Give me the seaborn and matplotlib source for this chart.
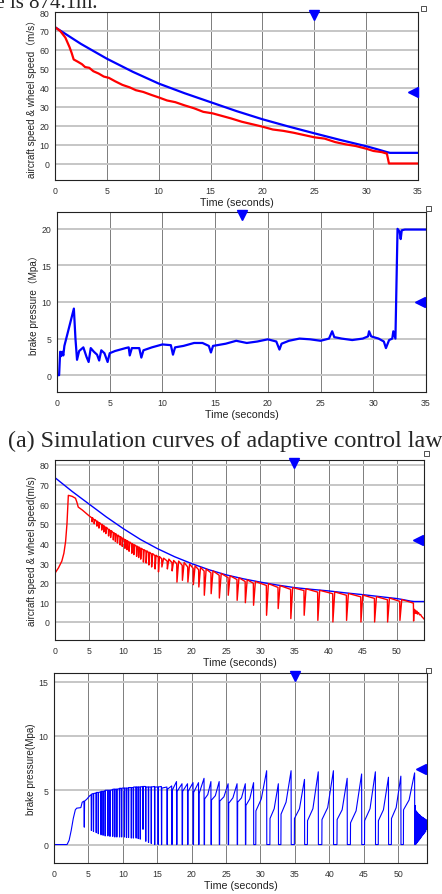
import numpy as np
import pandas as pd
import seaborn as sns
import matplotlib.pyplot as plt
from matplotlib.patches import Rectangle

sns.set_style('white')
plt.rcParams['font.family'] = ['Liberation Sans', 'Noto Sans CJK SC']

#########################################
# (a) adaptive control law, 0-35 s
#
p1_air_t = [0, 2.5, 5, 7.5, 10, 12.5, 15, 17.5, 20, 22.5, 25, 27.5, 30, 31, 32, 32.3, 35]
p1_air_v = [72, 63.2, 55.4, 48.5, 42.3, 37.2, 32.5, 27.8, 23.5, 19.7, 16.1, 12.6, 9.3, 7.8, 6.2, 5.8, 5.8]

p1_wheel_t = [0, 0.5, 1.0, 1.4, 1.6, 1.8, 2.2, 2.6, 2.9, 3.3, 3.7, 4.2, 4.7, 5.2, 5.8, 6.5, 7.2, 7.8,
              8.5, 9.3, 10.0, 10.8, 11.6, 12.5, 13.4, 14.3, 15.2, 16.0, 17.0, 18.0, 19.0, 20.0, 21.0,
              22.0, 23.0, 24.0, 25.0, 26.0, 27.0, 28.0, 29.0, 30.0, 30.7, 31.5, 32.0, 32.2, 35]
p1_wheel_v = [72, 70, 66.5, 61.5, 58.5, 55, 53.8, 52.5, 51, 50.6, 48.8, 47.6, 46, 45.3, 43.5, 41.6, 40.3, 38.8,
              37.9, 36.3, 35.0, 33.4, 32.5, 30.8, 29.3, 27.4, 26.6, 25.4, 23.9, 22.2, 20.9, 19.6, 18.1,
              17.4, 16.4, 15.2, 14.0, 13.3, 11.5, 10.3, 9.4, 8.0, 6.8, 6.2, 5.4, 0.2, 0.2]

p2_t = [0, 0.2, 0.3, 0.4, 0.5, 0.6, 0.7, 1.6, 1.75, 1.9, 2.1, 2.5, 2.8, 3.0, 3.2, 3.5, 3.8, 4.0, 4.2,
        4.5, 4.8, 5.0, 5.5, 6.0, 6.5, 6.8, 6.9, 7.1, 7.8, 8.0, 8.2, 9.0, 10.0, 10.8, 11.0, 11.2, 12.0,
        13.0, 13.8, 14.4, 14.6, 14.8, 16.0, 17.0, 18.0, 19.0, 20.0, 20.8, 21.1, 21.3, 22.0, 23.0, 24.0,
        25.0, 25.8, 26.1, 26.3, 27.0, 28.0, 29.0, 29.5, 29.6, 29.8, 30.5, 31.0, 31.2, 31.5, 31.8, 31.9,
        32.1, 32.3, 32.5, 32.6, 32.7, 33.0, 35.0]
p2_v = [0, 0, 3.2, 2.6, 3.2, 2.7, 4.0, 9.1, 5.0, 2.1, 3.3, 3.8, 2.5, 1.8, 3.7, 3.2, 2.8, 2.0, 3.4,
        3.0, 1.8, 3.0, 3.3, 3.5, 3.7, 3.8, 2.7, 3.7, 3.7, 2.4, 3.4, 3.8, 4.2, 4.1, 2.8, 3.8, 4.0,
        4.4, 4.4, 4.0, 3.1, 4.0, 4.3, 4.7, 4.4, 4.6, 4.9, 4.6, 3.5, 4.3, 4.7, 5.0, 4.9,
        4.7, 5.0, 6.0, 5.2, 5.0, 4.8, 5.0, 5.3, 6.0, 5.3, 5.0, 4.6, 3.7, 4.8, 5.0, 6.0,
        5.0, 20.0, 19.6, 18.6, 19.8, 19.9, 19.9]

#########################################
# (b) 0-54 s, wheel speed dips / brake pressure releases
#
p3_air_t = [0, 2.5, 5, 7.5, 10, 12.5, 15, 17.5, 20, 22.5, 25, 27.5, 30, 32.5, 35, 37.5, 40,
            42.5, 45, 47.5, 50, 51, 52, 52.5, 54.2]
p3_air_v = [73.5, 66.5, 60, 53.5, 47.5, 42, 37.3, 33.2, 29.7, 26.6, 24, 22, 20.3, 18.8, 17.5, 16.6, 15.8,
            14.8, 13.9, 12.9, 11.9, 11.3, 10.6, 10.4, 10.4]

dip_t = [5.4, 5.7, 6.1, 6.4, 6.8, 7.1, 7.4, 7.8, 8.1, 8.5,
         8.8, 9.1, 9.5, 9.8, 10.2, 10.5, 10.8, 11.2, 11.5, 11.9,
         12.2, 12.5, 12.9, 13.3, 13.7, 14.1, 14.6, 15.1, 15.6, 16.4,
         17.1, 17.8, 18.6, 19.4, 20.2, 21.0, 21.8, 22.8, 24.0, 25.3,
         26.6, 27.8, 29.0, 30.9, 32.6, 34.45, 36.4, 38.4, 40.6, 42.6,
         44.7, 46.7, 48.6, 50.4, 52.4]

p3_head_t = [0, 0.03, 0.5, 1.0, 1.3, 1.55, 1.75, 1.95, 2.5, 3.0, 3.2, 3.4, 4.0, 4.5, 5.0]
p3_head_v = [72, 25, 27.5, 31, 35, 41, 50, 64.5, 64, 63, 61, 58.5, 57, 55.5, 54]
p3_top = [53.0, 52.0, 51.2, 50.4, 49.5, 48.7, 48.0, 47.0, 46.3, 45.4,
          44.7, 44.0, 43.2, 42.6, 41.8, 41.2, 40.6, 39.8, 39.2, 38.5,
          38.0, 37.4, 36.7, 36.0, 35.3, 34.6, 33.8, 33.0, 32.2, 31.0,
          30.2, 29.6, 28.8, 28.0, 27.3, 26.6, 25.9, 25.0, 23.8, 22.6,
          21.6, 20.6, 19.7, 18.6, 17.6, 16.6, 16.0, 15.2, 14.4, 13.6,
          12.8, 12.0, 11.3, 10.5, 9.6]
p3_low = [51.0, 50.0, 48.8, 47.8, 46.8, 45.8, 45.0, 43.8, 43.0, 41.8,
          41.0, 40.2, 39.2, 38.5, 37.5, 36.8, 36.0, 35.0, 34.3, 33.4,
          32.8, 32.0, 30.5, 30.0, 29.0, 28.0, 27.0, 25.5, 28.0, 27.0,
          26.0, 20.3, 21.2, 20.3, 19.0, 17.8, 13.6, 14.4, 12.2, 13.6,
          11.0, 9.8, 8.5, 3.4, 6.8, 1.7, 3.4, 0.8, 0.0, 0.8,
          0.0, 0.0, 0.0, 0.8, 0.5]
p3_back = [53.0, 52.2, 51.3, 50.5, 49.7, 48.9, 48.2, 47.2, 46.5, 45.5,
           44.9, 44.2, 43.4, 42.7, 41.9, 41.3, 40.7, 39.9, 39.3, 38.6,
           38.1, 37.5, 36.8, 36.2, 35.5, 34.8, 34.0, 33.3, 32.5, 32.0,
           31.3, 31.0, 30.3, 29.5, 28.6, 27.8, 27.0, 26.0, 24.7, 23.5,
           22.5, 21.5, 20.6, 19.5, 18.5, 17.5, 16.9, 16.1, 15.3, 14.5,
           13.7, 12.9, 12.2, 11.4, 0.5]
p3_tail_t = [52.5, 52.6, 52.7, 52.8, 52.9, 53.0, 53.15, 53.3, 53.45, 53.6, 53.75, 53.9, 54.0]
p3_tail_v = [6.5, 4.5, 6.0, 4.3, 5.5, 4.0, 4.8, 3.6, 3.8, 2.8, 2.3, 1.7, 1.3]

p4_head_t = [0, 0.03, 1.9, 2.2, 2.5, 2.8, 3.1, 3.3, 3.9, 4.1, 4.35, 4.4, 4.45, 4.8, 5.2]
p4_head_v = [14.2, 0, 0, 0.4, 1.3, 2.4, 3.2, 3.35, 3.4, 3.9, 4.0, 1.6, 4.0, 4.2, 4.5]
p4_top = [4.6, 4.7, 4.75, 4.8, 4.85, 4.9, 4.95, 5.0, 5.0, 5.05,
          5.1, 5.1, 5.15, 5.15, 5.2, 5.2, 5.2, 5.25, 5.25, 5.3,
          5.3, 5.3, 5.35, 5.35, 5.3, 5.3, 5.35, 5.3, 5.35, 5.3,
          5.4, 5.8, 5.6, 5.6, 5.7, 5.7, 6.1, 5.8, 5.8, 5.6,
          5.6, 5.6, 5.7, 6.8, 5.6, 6.8, 6.0, 6.7, 6.8, 6.1,
          6.5, 6.7, 6.2, 6.3, 6.6]
p4_low = [1.3, 1.2, 1.1, 1.0, 0.9, 0.85, 0.8, 0.8, 0.75, 0.75,
          0.7, 0.7, 0.7, 0.7, 0.7, 0.65, 0.65, 0.6, 0.6, 0.6,
          0.55, 0.5, 1.4, 0.3, 0.2, 0.1, 0, 0, 0, 0,
          0, 0, 0, 0, 0, 0, 0, 0, 0, 0,
          0, 0, 0, 0, 0, 0, 0, 0, 0, 0,
          0, 0, 0, 0, 0]
p4_gap = [0.03, 0.03, 0.03, 0.03, 0.03, 0.03, 0.03, 0.03, 0.03, 0.03,
          0.03, 0.03, 0.03, 0.03, 0.03, 0.03, 0.03, 0.03, 0.03, 0.03,
          0.03, 0.03, 0.03, 0.03, 0.03, 0.03, 0.03, 0.03, 0.03, 0.05,
          0.05, 0.05, 0.05, 0.05, 0.05, 0.05, 0.05, 0.05, 0.05, 0.05,
          0.05, 0.05, 0.3, 0.45, 0.35, 0.45, 0.4, 0.5, 0.5, 0.45,
          0.4, 0.4, 0.4, 0.35, 0]
p4_back = [4.65, 4.7, 4.8, 4.8, 4.9, 4.9, 5.0, 5.0, 5.0, 5.1,
           5.1, 5.1, 5.2, 5.2, 5.2, 5.2, 5.25, 5.25, 5.3, 5.3,
           5.3, 5.3, 5.35, 5.3, 5.3, 5.3, 5.3, 5.3, 5.2, 5.1,
           5.0, 4.9, 4.9, 4.9, 4.8, 4.7, 4.2, 4.1, 4.0, 3.8,
           3.9, 3.6, 3.1, 2.4, 2.8, 2.4, 2.2, 2.3, 2.3, 2.0,
           2.2, 2.2, 2.4, 3.2, 0]
p4_mid = [None] * 37 + [4.6, 4.5, 4.4, 4.3, 4.3, 4.2, 4.2, 3.3, 3.9, 3.3,
                        3.3, 3.4, 3.2, 3.1, 3.3, 3.2, 3.4, 4.1]
p4_tail_t = [52.45, 52.5, 52.56, 52.62, 52.68, 52.74, 52.8, 52.86, 52.92, 52.98,
             53.04, 53.1, 53.16, 53.22, 53.28, 53.34, 53.4, 53.46, 53.52, 53.58,
             53.64, 53.7, 53.76, 53.82, 53.88, 53.94, 54.0, 54.06, 54.12, 54.2]
p4_tail_v = [0, 3.6, 0.0, 3.1, 0.1, 3.0, 0.2, 2.9, 0.3, 2.8,
             0.4, 2.75, 0.5, 2.7, 0.6, 2.6, 0.7, 2.55, 0.8, 2.5,
             0.9, 2.45, 1.0, 2.4, 1.1, 2.35, 1.2, 2.3, 1.4, 2.0]


def wheel_path():
    t, v = list(p3_head_t), list(p3_head_v)
    for i, d in enumerate(dip_t):
        t += [d, d + 0.03]
        v += [p3_top[i], p3_low[i]]
        if i == len(dip_t) - 1:
            break
        rise = min(0.3, 0.35 * (dip_t[i + 1] - d))
        t.append(d + rise)
        v.append(p3_back[i])
    return pd.DataFrame({'t': t + p3_tail_t, 'v': v + p3_tail_v})


def pressure_path():
    t, v = list(p4_head_t), list(p4_head_v)
    for i, d in enumerate(dip_t):
        if p4_mid[i] is not None:
            t.append((t[-1] + d) / 2)
            v.append(p4_mid[i])
        t += [d, d + 0.02]
        v += [p4_top[i], p4_low[i]]
        if i == len(dip_t) - 1:
            break
        t += [d + 0.02 + p4_gap[i], d + 0.04 + p4_gap[i]]
        v += [p4_low[i], p4_back[i]]
    return pd.DataFrame({'t': t + p4_tail_t, 'v': v + p4_tail_v})


W, H = 442, 895
fig = plt.figure(figsize=(W / 100, H / 100), dpi=100)


def px_axes(left, top, right, bottom):
    return fig.add_axes([left / W, 1 - bottom / H, (right - left) / W, (bottom - top) / H])


def style(ax, xlim, ylim, xticks, yticks, ylabel, cursor_x, cursor_y):
    ax.set_xlim(xlim)
    ax.set_ylim(ylim)
    ax.set_xticks(xticks)
    ax.set_yticks(yticks)
    ax.set_axisbelow(True)
    ax.grid(axis='x', color='#7c7c7c', lw=0.7)
    ax.grid(axis='y', color='#c6c6c6', lw=1.4)
    for s in ax.spines.values():
        s.set_color('#222222')
        s.set_linewidth(0.8)
    ax.tick_params(labelsize=6.3, length=0, pad=4, labelcolor='#333333')
    ax.set_xlabel('Time (seconds)', fontsize=7.7, labelpad=1.5, color='#222222')
    ax.set_ylabel(ylabel, fontsize=7.1, labelpad=2, color='#222222')
    # data cursor markers at the frame edges
    ax.plot([cursor_x], [0.985], marker='v', color='#0000ff', ms=7, ls='none',
            transform=ax.get_xaxis_transform(), clip_on=False, zorder=5)
    ax.plot([0.985], [cursor_y], marker='<', color='#0000ff', ms=7, ls='none',
            transform=ax.get_yaxis_transform(), clip_on=False, zorder=5)


def corner_box(x, y):
    fig.patches.append(Rectangle((x / W, 1 - (y + 5) / H), 5 / W, 5 / H, transform=fig.transFigure,
                                 fill=False, ec='#333333', lw=0.6))


# panel 1
ax1 = px_axes(55, 13, 418, 181)
sns.lineplot(x='t', y='v', data=pd.DataFrame({'t': p1_air_t, 'v': p1_air_v}), sort=False,
             estimator=None, color='#0000ff', lw=1.6, ax=ax1)
sns.lineplot(x='t', y='v', data=pd.DataFrame({'t': p1_wheel_t, 'v': p1_wheel_v}), sort=False,
             estimator=None, color='#ff0000', lw=1.6, ax=ax1)
style(ax1, (0, 35), (-8.5, 80), range(0, 36, 5), range(0, 81, 10),
      'aircraft speed & wheel speed（m/s）', 25, 38)

# panel 2
ax2 = px_axes(57, 213, 426, 393)
sns.lineplot(x='t', y='v', data=pd.DataFrame({'t': p2_t, 'v': p2_v}), sort=False,
             estimator=None, color='#0000ff', lw=1.6, ax=ax2)
style(ax2, (0, 35), (-2.3, 22.3), range(0, 36, 5), range(0, 21, 5),
      'brake pressure（Mpa）', 17.5, 10)

# panel 3
ax3 = px_axes(55, 461, 424, 641)
sns.lineplot(x='t', y='v', data=pd.DataFrame({'t': p3_air_t, 'v': p3_air_v}), sort=False,
             estimator=None, color='#0000ff', lw=1.0, ax=ax3)
sns.lineplot(x='t', y='v', data=wheel_path(), sort=False,
             estimator=None, color='#ff0000', lw=1.0, ax=ax3)
style(ax3, (0, 53.95), (-9.2, 82.5), range(0, 51, 5), range(0, 81, 10),
      'aircraft speed & wheel speed(m/s)', 35, 41.5)

# panel 4
ax4 = px_axes(54, 674, 427, 864)
sns.lineplot(x='t', y='v', data=pressure_path(), sort=False,
             estimator=None, color='#0000ff', lw=0.8, ax=ax4)
style(ax4, (0, 54.2), (-1.7, 15.8), range(0, 51, 5), range(0, 16, 5),
      'brake pressure(Mpa)', 35, 7)

for bx, by in [(421, 7), (426, 207), (424, 452), (426, 669)]:
    corner_box(bx, by)

fig.text(97 / W, 1 - 7.5 / H, 'distance is 874.1m.', family='Liberation Serif', fontsize=15,
         ha='right', va='baseline')
fig.text(8 / W, 1 - 441 / H, '(a) Simulation curves of adaptive control law', family='Liberation Serif',
         fontsize=17.3, ha='left', va='center')

fig.savefig('out.png', dpi=100)
